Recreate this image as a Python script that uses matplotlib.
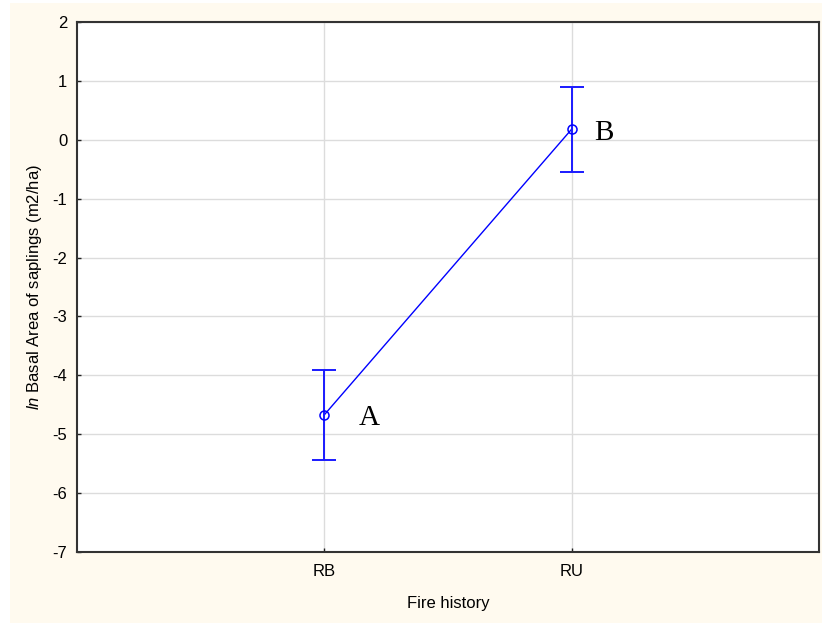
import matplotlib
matplotlib.use("Agg")
import matplotlib.pyplot as plt
from matplotlib.patches import Rectangle

categories = ["RB", "RU"]
means = [-4.67, 0.18]
errors = [0.76, 0.72]
letters = ["A", "B"]

plt.rcParams["font.family"] = ["Liberation Sans", "DejaVu Sans"]
plt.rcParams["mathtext.fontset"] = "custom"
plt.rcParams["mathtext.it"] = "Liberation Sans:italic"
plt.rcParams["mathtext.rm"] = "Liberation Sans"
plt.rcParams["axes.unicode_minus"] = False

W, H = 822, 623
fig = plt.figure(figsize=(W / 100, H / 100), dpi=100)
fig.patch.set_facecolor("white")
fig.patches.append(Rectangle((10 / W, 0), 1 - 10 / W, 1 - 3 / H,
                             transform=fig.transFigure, facecolor="#FFFAEF",
                             edgecolor="none", zorder=-10))

ax = fig.add_axes([77 / W, (H - 552) / H, 742 / W, 530 / H])
ax.set_facecolor("white")

x = list(range(len(categories)))
ax.plot(x, means, color="#0000FF", lw=1.0, zorder=3)
ax.errorbar(x, means, yerr=errors, fmt="none", ecolor="#1a1aff",
            elinewidth=1.4, capsize=8.5, capthick=1.4, zorder=3)
ax.plot(x, means, "o", mfc="none", mec="#0000FF", ms=6.5, mew=1.1, zorder=4)

# letter labels placed to the right of each mean
letter_offsets = [(25, -2), (16, -3)]
for xi, m, lab, off in zip(x, means, letters, letter_offsets):
    ax.annotate(lab, (xi, m), xytext=off, textcoords="offset points",
                fontsize=21, family="Liberation Serif", va="center", ha="left")

ax.set_xlim(-1, 2)
ax.set_ylim(-7, 2)
ax.set_xticks(x)
ax.set_xticklabels(categories)
ax.set_yticks(range(-7, 3))
ax.grid(True, color="#dcdcdc", lw=1.0)
ax.set_axisbelow(True)
ax.tick_params(direction="in", length=3, width=1, labelsize=12, color="#222222")
ax.tick_params(axis="x", pad=9)
ax.tick_params(axis="y", pad=7)
for s in ax.spines.values():
    s.set_color("#333333")
    s.set_linewidth(1.5)

ax.set_xlabel("Fire history", fontsize=12, labelpad=12)
ax.set_ylabel(r"$\mathit{ln}$ Basal Area of saplings (m2/ha)", fontsize=12, labelpad=6)

fig.savefig("out.png", dpi=100, facecolor=fig.get_facecolor())
